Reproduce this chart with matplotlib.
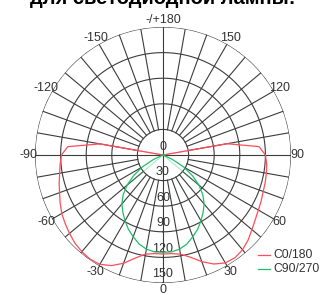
import numpy as np
import matplotlib.pyplot as plt

# angles from nadir (deg), 0 = down, positive to the right
angles = [0, 5, 10, 15, 20, 25, 30, 35, 40, 45, 50, 55, 60, 65, 70, 75,
          80, 85, 90, 95, 100, 105]
# C0/180 plane (right half = C0, left half = C180)
c0_vals = [116, 116, 118, 124, 133, 141, 146, 147, 145, 141, 136, 132, 129,
           127, 125, 124, 123, 122, 120, 113, 76, 0]
c180_vals = [116, 116, 118, 125, 135, 143, 148, 149, 148, 146, 143, 140, 137,
             133, 129, 126, 123, 121, 119, 112, 75, 0]
# C90/270 plane
c90_vals = [114, 114, 112, 108, 102, 96, 89, 82, 75, 66, 55, 42, 28, 12, 0,
            0, 0, 0, 0, 0, 0, 0]
c270_vals = c90_vals

ring_vals = [30, 60, 90, 120, 150]
angle_ticks = [0, 30, 60, 90, 120, 150, 180, -30, -60, -90, -120, -150]
angle_labels = ['0', '30', '60', '90', '120', '150', '-/+180',
                '-30', '-60', '-90', '-120', '-150']
series_names = ['C0/180', 'C90/270']

title = 'для светодиодной лампы:'

RED = '#ff4d5a'
GREEN = '#1fbf6a'
GRID = '#3c3c3c'
TXT = '#333333'

plt.rcParams['font.family'] = ['Liberation Sans', 'DejaVu Sans']

fig = plt.figure(figsize=(3.23, 2.95), dpi=100)
ax = fig.add_axes([35 / 323, 12 / 295, 256 / 323, 256 / 295], projection='polar')
ax.set_theta_zero_location('S')
ax.set_theta_direction(1)
ax.set_ylim(0, 150)
ax.set_axis_off()

# grid rings
t = np.linspace(0, 2 * np.pi, 361)
for rv in ring_vals:
    ax.plot(t, np.full_like(t, rv), color=GRID, lw=0.8, zorder=1)
# spokes every 10 deg from first ring
for a in range(0, 360, 10):
    r0 = 0 if a % 90 == 0 else 30
    ax.plot([np.radians(a)] * 2, [r0, 150], color=GRID, lw=0.8, zorder=1)

# angle labels
for a, lab in zip(angle_ticks, angle_labels):
    ax.text(np.radians(a), 158, lab, ha='center', va='center',
            fontsize=9, color=TXT)
# ring labels along the nadir axis
ax.text(np.pi, 9, '0', ha='center', va='center', fontsize=9, color=TXT)
for rv in ring_vals:
    ax.text(0, rv - 10, str(rv), ha='center', va='center', fontsize=9,
            color=TXT)

th = np.radians(angles)
# C0/180 curve
ax.plot(th, c0_vals, color=RED, lw=0.9, zorder=3)
ax.plot(-th, c180_vals, color=RED, lw=0.9, zorder=3)
ax.plot(np.radians([100, 103]), [80, 0], color=RED, lw=0.7, alpha=0.45, zorder=3)
ax.plot(np.radians([-100, -103]), [80, 0], color=RED, lw=0.7, alpha=0.45, zorder=3)
# C90/270 curve
ax.plot(th, c90_vals, color=GREEN, lw=0.9, zorder=3)
ax.plot(-th, c270_vals, color=GREEN, lw=0.9, zorder=3)
ax.plot(np.radians([50, 50]), [0, 55], color=GREEN, lw=0.7, alpha=0.4, zorder=3)
ax.plot(np.radians([-50, -50]), [0, 55], color=GREEN, lw=0.7, alpha=0.4, zorder=3)

# legend
fig.lines.append(plt.Line2D([258 / 323, 270 / 323], [1 - 255 / 295] * 2,
                            color=RED, lw=0.9, transform=fig.transFigure))
fig.lines.append(plt.Line2D([258 / 323, 270 / 323], [1 - 269 / 295] * 2,
                            color=GREEN, lw=0.9, transform=fig.transFigure))
fig.text(273 / 323, 1 - 255 / 295, series_names[0], ha='left', va='center',
         fontsize=8.7, color=TXT)
fig.text(273 / 323, 1 - 269 / 295, series_names[1], ha='left', va='center',
         fontsize=8.7, color=TXT)

fig.text(0.505, 1 + 1 / 295, title, ha='center', va='center',
         fontsize=14.5, fontweight='bold', color='black')

fig.savefig('out.png', dpi=100)
